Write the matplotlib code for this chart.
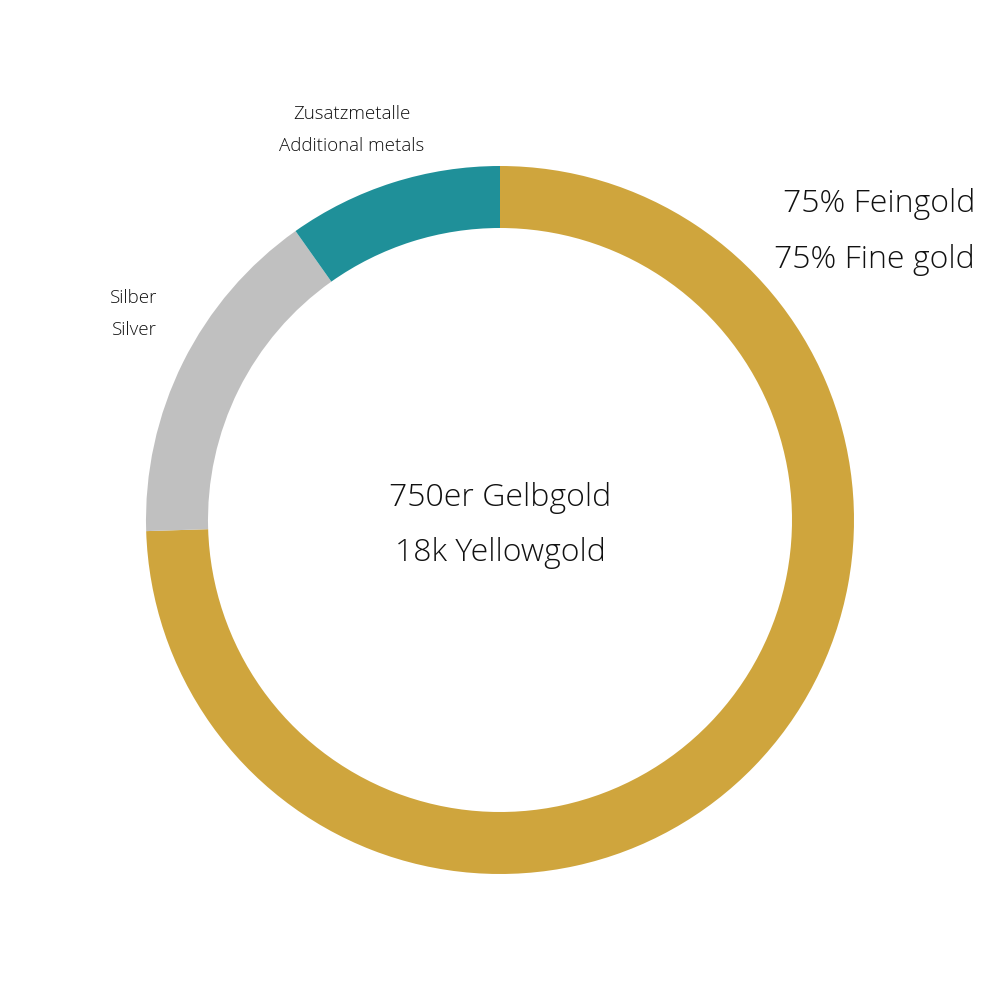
import matplotlib
matplotlib.use("Agg")
import matplotlib.pyplot as plt

plt.rcParams['font.family'] = ['Open Sans', 'DejaVu Sans']

# composition of 750 gold (share of the ring)
parts = ["Feingold", "Silber", "Zusatzmetalle"]
shares = [74.5, 15.7, 9.8]
colors = ["#CFA53D", "#C0C0C0", "#1F9099"]

fig = plt.figure(figsize=(10, 10), dpi=100)
ax = fig.add_axes([0, 0, 1, 1])

ax.pie(shares, colors=colors, startangle=90, counterclock=False,
       center=(500, 480), radius=354,
       wedgeprops=dict(width=62, linewidth=0), frame=True)
ax.set_xlim(0, 1000)
ax.set_ylim(0, 1000)
ax.set_aspect('equal')
ax.axis('off')

txt = dict(color="#111111", fontweight='light')
ax.text(500, 1000 - 506, "750er Gelbgold", ha='center', va='baseline', fontsize=23, **txt)
ax.text(500, 1000 - 561, "18k Yellowgold", ha='center', va='baseline', fontsize=23, **txt)
ax.text(975, 1000 - 212, "75% Feingold", ha='right', va='baseline', fontsize=23, **txt)
ax.text(975, 1000 - 268, "75% Fine gold", ha='right', va='baseline', fontsize=23, **txt)
ax.text(352, 1000 - 119, "Zusatzmetalle", ha='center', va='baseline', fontsize=13.5, **txt)
ax.text(352, 1000 - 151, "Additional metals", ha='center', va='baseline', fontsize=13.5, **txt)
ax.text(134, 1000 - 303, "Silber", ha='center', va='baseline', fontsize=13.5, **txt)
ax.text(134, 1000 - 335, "Silver", ha='center', va='baseline', fontsize=13.5, **txt)

fig.savefig("out.png", dpi=100, facecolor='white')
